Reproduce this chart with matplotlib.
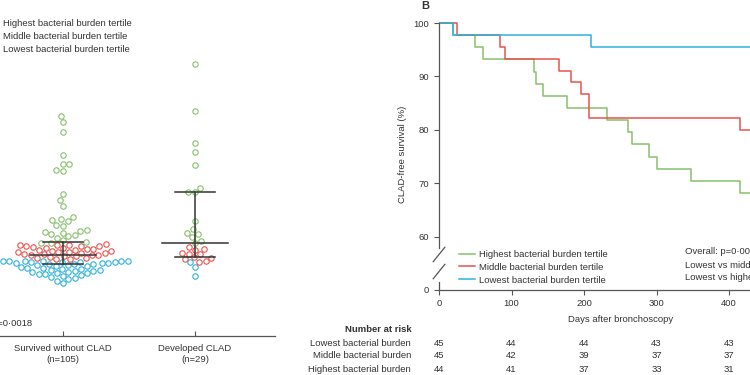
import numpy as np
import matplotlib
matplotlib.use("Agg")
import matplotlib.pyplot as plt
from matplotlib.transforms import blended_transform_factory

plt.rcParams['font.family'] = ['Liberation Sans', 'DejaVu Sans']
plt.rcParams['font.size'] = 6.8
plt.rcParams['text.color'] = '#333333'
plt.rcParams['axes.labelcolor'] = '#333333'
plt.rcParams['xtick.color'] = '#555555'
plt.rcParams['ytick.color'] = '#555555'
plt.rcParams['xtick.labelcolor'] = '#333333'
plt.rcParams['ytick.labelcolor'] = '#333333'

# ---- data ----
tertiles = ['Highest bacterial burden tertile', 'Middle bacterial burden tertile',
            'Lowest bacterial burden tertile']
colors = {'high': '#86c06c', 'mid': '#e9524c', 'low': '#2eb1dc'}

groups = ['Survived without CLAD\n(n=105)', 'Developed CLAD\n(n=29)']

# panel A: bacterial burden per patient (log units), split by tertile
surv_high = [7.18, 7.06, 6.87, 6.44, 6.27, 6.26, 6.15, 6.13, 5.70, 5.58, 5.47, 5.26, 5.22,
             5.20, 5.18, 5.11, 5.09, 5.01, 4.99, 4.97, 4.96, 4.94, 4.92, 4.90, 4.86, 4.83,
             4.78, 4.77, 4.76]
surv_mid = [4.44, 4.46, 4.47, 4.48, 4.49, 4.50, 4.51, 4.52, 4.53, 4.53, 4.54, 4.55, 4.56,
            4.57, 4.58, 4.59, 4.60, 4.60, 4.61, 4.62, 4.63, 4.64, 4.65, 4.66, 4.67, 4.68,
            4.69, 4.70, 4.70, 4.71, 4.72, 4.73, 4.73, 4.74]
surv_low = [4.01, 4.05, 4.08, 4.10, 4.12, 4.14, 4.15, 4.17, 4.18, 4.19, 4.20, 4.21, 4.22,
            4.23, 4.24, 4.25, 4.26, 4.27, 4.28, 4.29, 4.30, 4.31, 4.32, 4.33, 4.34, 4.35,
            4.36, 4.37, 4.37, 4.38, 4.39, 4.39, 4.40, 4.40, 4.41, 4.41, 4.42, 4.42, 4.42,
            4.43, 4.43, 4.43]
clad_high = [8.16, 7.27, 6.66, 6.49, 6.25, 5.81, 5.74, 5.73, 5.18, 5.03, 4.96, 4.94, 4.88,
             4.80, 4.77]
clad_mid = [4.69, 4.65, 4.64, 4.58, 4.56, 4.55, 4.50, 4.49, 4.46, 4.42, 4.41]
clad_low = [4.40, 4.31, 4.14]
p_value_a = 'p=0·0018'

# panel B: Kaplan-Meier steps (days, CLAD-free survival %)
km_high_t = [0, 19, 50, 60, 131, 134, 144, 176, 232, 261, 266, 289, 301, 348, 415, 480]
km_high_s = [100, 97.7, 95.5, 93.2, 90.9, 88.6, 86.4, 84.1, 81.8, 79.5, 77.3, 75.0, 72.7,
             70.5, 68.2, 68.2]
km_mid_t = [0, 25, 84, 91, 165, 182, 196, 207, 415, 480]
km_mid_s = [100, 97.8, 95.6, 93.3, 91.1, 88.9, 86.7, 82.2, 80.0, 80.0]
km_low_t = [0, 19, 210, 480]
km_low_s = [100, 97.8, 95.6, 95.6]

p_texts = ['Overall: p=0·0031', 'Lowest vs middle: p=0·0418', 'Lowest vs highest: p=0·0010']

risk_days = [0, 100, 200, 300, 400]
risk_labels = ['Lowest bacterial burden', 'Middle bacterial burden', 'Highest bacterial burden']
risk_low = [45, 44, 44, 43, 43]
risk_mid = [45, 42, 39, 37, 37]
risk_high = [44, 41, 37, 33, 31]

W, H = 750, 375
fig = plt.figure(figsize=(7.5, 3.75), dpi=100)


def fx(px):
    return px / W


def fy(py):
    return 1 - py / H


def swarm_offsets(ypix, d):
    order = np.argsort(ypix, kind='stable')
    xs = np.zeros(len(ypix))
    placed = []
    for i in order:
        y = ypix[i]
        near = [(px, py) for px, py in placed if abs(py - y) < d]
        cands = [0.0]
        for px, py in near:
            dx = np.sqrt(d * d - (py - y) ** 2)
            cands += [px - dx, px + dx]
        cands.sort(key=abs)
        for c in cands:
            if all((c - px) ** 2 + (y - py) ** 2 >= d * d - 1e-6 for px, py in near):
                xs[i] = c
                break
        placed.append((xs[i], y))
    return xs


# ---- panel A ----
ax = fig.add_axes([fx(-15), fy(336), fx(290), (336 - 20) / H])
ax.set_xlim(-0.59, 1.606)
ax.set_ylim(3, 9)

group_data = [(surv_high, surv_mid, surv_low), (clad_high, clad_mid, clad_low)]
for gi, (hi, mi, lo) in enumerate(group_data):
    vals = np.array(hi + mi + lo)
    keys = ['high'] * len(hi) + ['mid'] * len(mi) + ['low'] * len(lo)
    pix = ax.transData.transform(np.column_stack([np.full(len(vals), gi), vals]))
    offs = swarm_offsets(pix[:, 1], 6.6)
    pix[:, 0] += offs
    pts = ax.transData.inverted().transform(pix)
    for k in ['low', 'mid', 'high']:
        m = np.array([kk == k for kk in keys])
        ax.plot(pts[m, 0], pts[m, 1], 'o', mfc='none', mec=colors[k], ms=3.9, mew=0.8,
                clip_on=False, zorder=2)
    q1, med, q3 = np.percentile(vals, [25, 50, 75])
    ax.plot([gi - 0.25, gi + 0.25], [med, med], color='#333333', lw=1.1, zorder=3)
    ax.plot([gi - 0.15, gi + 0.15], [q1, q1], color='#333333', lw=1.1, zorder=3)
    ax.plot([gi - 0.15, gi + 0.15], [q3, q3], color='#333333', lw=1.1, zorder=3)
    ax.plot([gi, gi], [q1, q3], color='#333333', lw=1.1, zorder=3)

for s in ['top', 'right', 'left']:
    ax.spines[s].set_visible(False)
ax.spines['bottom'].set_color('#555555')
ax.spines['bottom'].set_linewidth(0.9)
ax.set_yticks([])
ax.set_xticks([0, 1])
ax.set_xticklabels(groups, linespacing=1.3)
ax.tick_params(axis='x', direction='in', length=3.5, width=0.8, pad=6)

fig.text(fx(33), fy(323), p_value_a, ha='right', va='center')

handles = [plt.Line2D([], [], marker='o', ls='none', mfc='none', mec=colors[k], ms=3.9, mew=0.8)
           for k in ['high', 'mid', 'low']]
fig.legend(handles, tertiles, loc='upper left', bbox_to_anchor=(fx(-11), fy(19)),
           frameon=False, handlelength=1.0, handletextpad=0.5, borderpad=0,
           borderaxespad=0, labelspacing=0.4)

# ---- panel B ----
px_per_day = 0.725
bx = fig.add_axes([fx(439), fy(290), fx(500 * px_per_day), (290 - 17.7) / H])
bx.set_xlim(0, 500)
bx.set_ylim(50, 101)

bx.step(km_high_t, km_high_s, where='post', color=colors['high'], lw=1.1, label=tertiles[0])
bx.step(km_mid_t, km_mid_s, where='post', color=colors['mid'], lw=1.1, label=tertiles[1])
bx.step(km_low_t, km_low_s, where='post', color=colors['low'], lw=1.1, label=tertiles[2])

for s in ['top', 'right']:
    bx.spines[s].set_visible(False)
bx.spines['left'].set_bounds(57.9, 100)
for s in ['left', 'bottom']:
    bx.spines[s].set_color('#555555')
    bx.spines[s].set_linewidth(0.9)
bx.plot([0, 0], [50, 51.5], color='#555555', lw=0.9, clip_on=False)
# axis break marks
bx.plot([-8, 8], [55.3, 58.0], color='#555555', lw=0.9, clip_on=False)
bx.plot([-8, 8], [52.1, 54.8], color='#555555', lw=0.9, clip_on=False)

bx.set_yticks([50, 60, 70, 80, 90, 100])
bx.set_yticklabels(['0', '60', '70', '80', '90', '100'])
bx.set_xticks([0, 100, 200, 300, 400])
bx.tick_params(direction='out', length=3.5, width=0.8)
bx.tick_params(axis='x', pad=3)
bx.set_ylabel('CLAD-free survival (%)', labelpad=5)
bx.set_xlabel('Days after bronchoscopy', labelpad=5)

bx.legend(loc='lower left', bbox_to_anchor=(0.055, 0.02), frameon=False,
          handlelength=1.75, handletextpad=0.35, labelspacing=0.4, borderpad=0,
          borderaxespad=0)

for i, t in enumerate(p_texts):
    fig.text(fx(685), fy(252 + 13 * i), t, ha='left', va='center')

fig.text(fx(425), fy(6), 'B', ha='center', va='center', fontsize=8, fontweight='bold')

# number at risk
fig.text(fx(412), fy(330), 'Number at risk', ha='right', va='center', fontweight='bold')
tr = blended_transform_factory(bx.transData, fig.transFigure)
for i, (lab, row) in enumerate(zip(risk_labels, [risk_low, risk_mid, risk_high])):
    yy = fy(343 + 13 * i)
    fig.text(fx(411), yy, lab, ha='right', va='center')
    for d, n in zip(risk_days, row):
        bx.text(d, yy, str(n), transform=tr, ha='center', va='center', clip_on=False)

fig.savefig('out.png', dpi=100)
